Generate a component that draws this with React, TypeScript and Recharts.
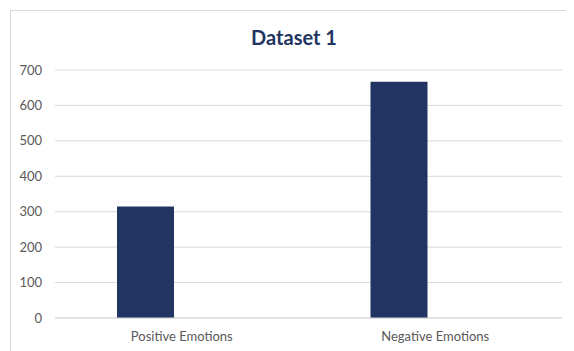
import { BarChart, Bar, XAxis, YAxis, CartesianGrid } from "recharts";

const categories = ["Positive Emotions", "Negative Emotions"];
const dataset1 = [315, 667];
// second series in the original workbook is empty, it only reserves the slot
const series2: (number | null)[] = [null, null];
const yTicks = [0, 100, 200, 300, 400, 500, 600, 700];

const data = categories.map((name, i) => ({
  name,
  dataset1: dataset1[i],
  series2: series2[i],
}));

const navy = "#223562";
const grid = "#d9d9d9";
const font = "Lato, 'Open Sans', sans-serif";

export default function App() {
  return (
    <div style={{ padding: "2px 0 0 2px" }}>
      <div
        style={{
          position: "relative",
          width: 570,
          height: 345,
          border: `1px solid ${grid}`,
          background: "#fff",
          fontFamily: font,
        }}
      >
        <div
          style={{
            position: "absolute",
            top: 14,
            left: 0,
            width: 566,
            textAlign: "center",
            fontSize: 20,
            fontWeight: 700,
            color: navy,
          }}
        >
          Dataset 1
        </div>
        <BarChart
          width={568}
          height={343}
          data={data}
          margin={{ top: 59, right: 17, bottom: 6, left: 0 }}
          barGap={15}
        >
          <CartesianGrid vertical={false} stroke={grid} />
          <XAxis
            dataKey="name"
            tickLine={false}
            axisLine={{ stroke: grid }}
            tick={{ fill: "#595959", fontSize: 13, fontFamily: font }}
            tickMargin={8}
          />
          <YAxis
            width={44}
            domain={[0, 700]}
            ticks={yTicks}
            tickLine={false}
            axisLine={false}
            tick={{ fill: "#595959", fontSize: 13, fontFamily: font }}
            tickMargin={7}
          />
          <Bar dataKey="dataset1" fill={navy} barSize={57} isAnimationActive={false} />
          <Bar dataKey="series2" fill={navy} barSize={57} isAnimationActive={false} />
        </BarChart>
      </div>
    </div>
  );
}
